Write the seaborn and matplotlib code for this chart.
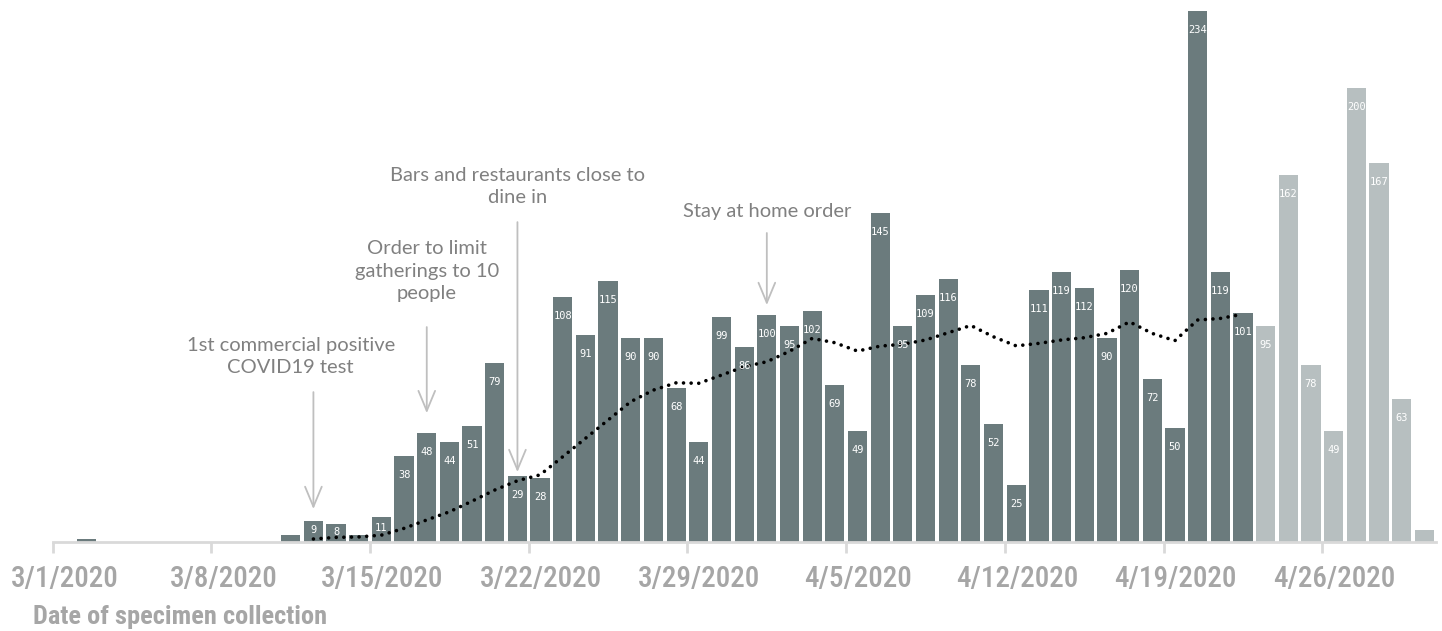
import numpy as np
import pandas as pd
import matplotlib
matplotlib.use("Agg")
import matplotlib.pyplot as plt
import matplotlib.transforms as mtransforms
import seaborn as sns

# ---------------- data ----------------
start_date = "2020-03-01"
cases = [0, 1, 0, 0, 0, 0, 0, 0, 0, 0,
         3, 9, 8, 3, 11, 38, 48, 44, 51, 79,
         29, 28, 108, 91, 115, 90, 90, 68, 44, 99,
         86, 100, 95, 102, 69, 49, 145, 95, 109, 116,
         78, 52, 25, 111, 119, 112, 90, 120, 72, 50,
         234, 119, 101, 95, 162, 78, 49, 200, 167, 63,
         5]
first_incomplete_day = 53  # 4/23 onward: lighter bars
trend_start_day = 11
trend = [1.2, 1.9, 2.1, 2.9, 5.9, 9.6, 13.2, 17.9, 22.8, 26.9,
         29.5, 37.5, 45.6, 53.7, 61.8, 66.9, 70.1, 69.9, 73.5, 77.2,
         79.4, 84.0, 89.7, 87.8, 84.1, 86.3, 87.1, 89.0, 92.2, 95.4,
         90.4, 86.4, 87.5, 89.0, 90.0, 91.9, 97.0, 91.9, 88.7, 97.8,
         98.5, 100.4]
tick_labels = ["3/1/2020", "3/8/2020", "3/15/2020", "3/22/2020", "3/29/2020",
               "4/5/2020", "4/12/2020", "4/19/2020", "4/26/2020"]
annotations = [
    ("1st commercial positive\nCOVID19 test", 10.0, 81.7, 11, 66.0, 14.4),
    ("Order to limit\ngatherings to 10\npeople", 16.0, 119.4, 16, 94.7, 56.7),
    ("Bars and restaurants close to\ndine in", 20.0, 156.8, 20, 141.0, 30.7),
    ("Stay at home order", 31.0, 145.8, 31, 136.2, 104.4),
]
label_min = 8

dates = pd.date_range(start_date, periods=len(cases), freq="D")
df = pd.DataFrame({
    "day": np.arange(len(cases)),
    "date": dates,
    "cases": cases,
    "status": ["complete" if d < first_incomplete_day else "incomplete"
               for d in range(len(cases))],
})
trend_df = pd.DataFrame({
    "day": np.arange(trend_start_day, trend_start_day + len(trend)),
    "avg": trend,
})

# ---------------- style ----------------
sns.set_theme(style="white")
plt.rcParams["font.family"] = ["Lato", "DejaVu Sans"]

DARK = "#687d80"
LIGHT = "#b5c0c2"
AXIS = "#d9d9d9"
TXT = "#808080"
TICKTXT = "#a6a6a6"
COND = ["Roboto Condensed", "DejaVu Sans Condensed", "Liberation Sans Narrow",
        "Roboto", "DejaVu Sans"]

fig = plt.figure(figsize=(14.42, 6.31), dpi=100)
W, H = 1442, 631
x0, x1 = 52.7, 1435.6
ybase = 541.7
ax = fig.add_axes([x0 / W, (H - ybase) / H, (x1 - x0) / W, ybase / H])
px_per_unit = ybase / 239.0

sns.barplot(data=df, x="day", y="cases", hue="status",
            palette={"complete": DARK, "incomplete": LIGHT},
            dodge=False, width=0.85, legend=False, ax=ax,
            edgecolor="none", linewidth=0)

sns.lineplot(data=trend_df, x="day", y="avg", ax=ax, color="black",
             linewidth=2.6, legend=False)
for ln in ax.lines:
    ln.set_linestyle((0, (0.01, 2.1)))
    ln.set_dash_capstyle("round")
    ln.set_solid_capstyle("round")

# bar value labels
for d, v in zip(df["day"], df["cases"]):
    if v >= label_min:
        off = min(19.0, 0.45 * v * px_per_unit)
        ax.annotate(str(v), xy=(d, v), xytext=(0, -off), textcoords="offset pixels",
                    ha="center", va="center", color="white", fontsize=7.5,
                    family=["DejaVu Sans Mono"])

# event annotations
for text, tx, ty, ax_x, y_from, y_to in annotations:
    ax.text(tx, ty, text, ha="center", va="center", color=TXT, fontsize=14.5,
            linespacing=1.4)
    ax.annotate("", xy=(ax_x, y_to), xytext=(ax_x, y_from),
                arrowprops=dict(arrowstyle="->,head_length=1.2,head_width=0.5",
                                color="#bfbfbf", lw=1.3, shrinkA=0, shrinkB=0))

ax.set_xlim(-0.5, len(cases) - 0.5)
ax.set_ylim(0, 239)
ax.set_yticks([])
ax.set_ylabel("")
tick_pos = [-0.5 + 7 * k for k in range(len(tick_labels))]
ax.set_xticks(tick_pos)
ax.set_xticklabels(tick_labels, family=COND, stretch="condensed",
                   fontsize=21, fontweight="medium", color=TICKTXT)
ax.tick_params(axis="x", direction="out", length=8, width=2, color=AXIS, pad=9,
               bottom=True)
shift = mtransforms.ScaledTranslation(12 / 100, 0, fig.dpi_scale_trans)
for lbl in ax.get_xticklabels():
    lbl.set_transform(lbl.get_transform() + shift)
for s in ["top", "right", "left"]:
    ax.spines[s].set_visible(False)
ax.spines["bottom"].set_color(AXIS)
ax.spines["bottom"].set_linewidth(2)
ax.set_xlabel("")
fig.text(33 / W, 1 - 617 / H, "Date of specimen collection", ha="left", va="center",
         family=COND, stretch="condensed", fontsize=19,
         fontweight="bold", color=TICKTXT)

fig.savefig("out.png", dpi=100)
